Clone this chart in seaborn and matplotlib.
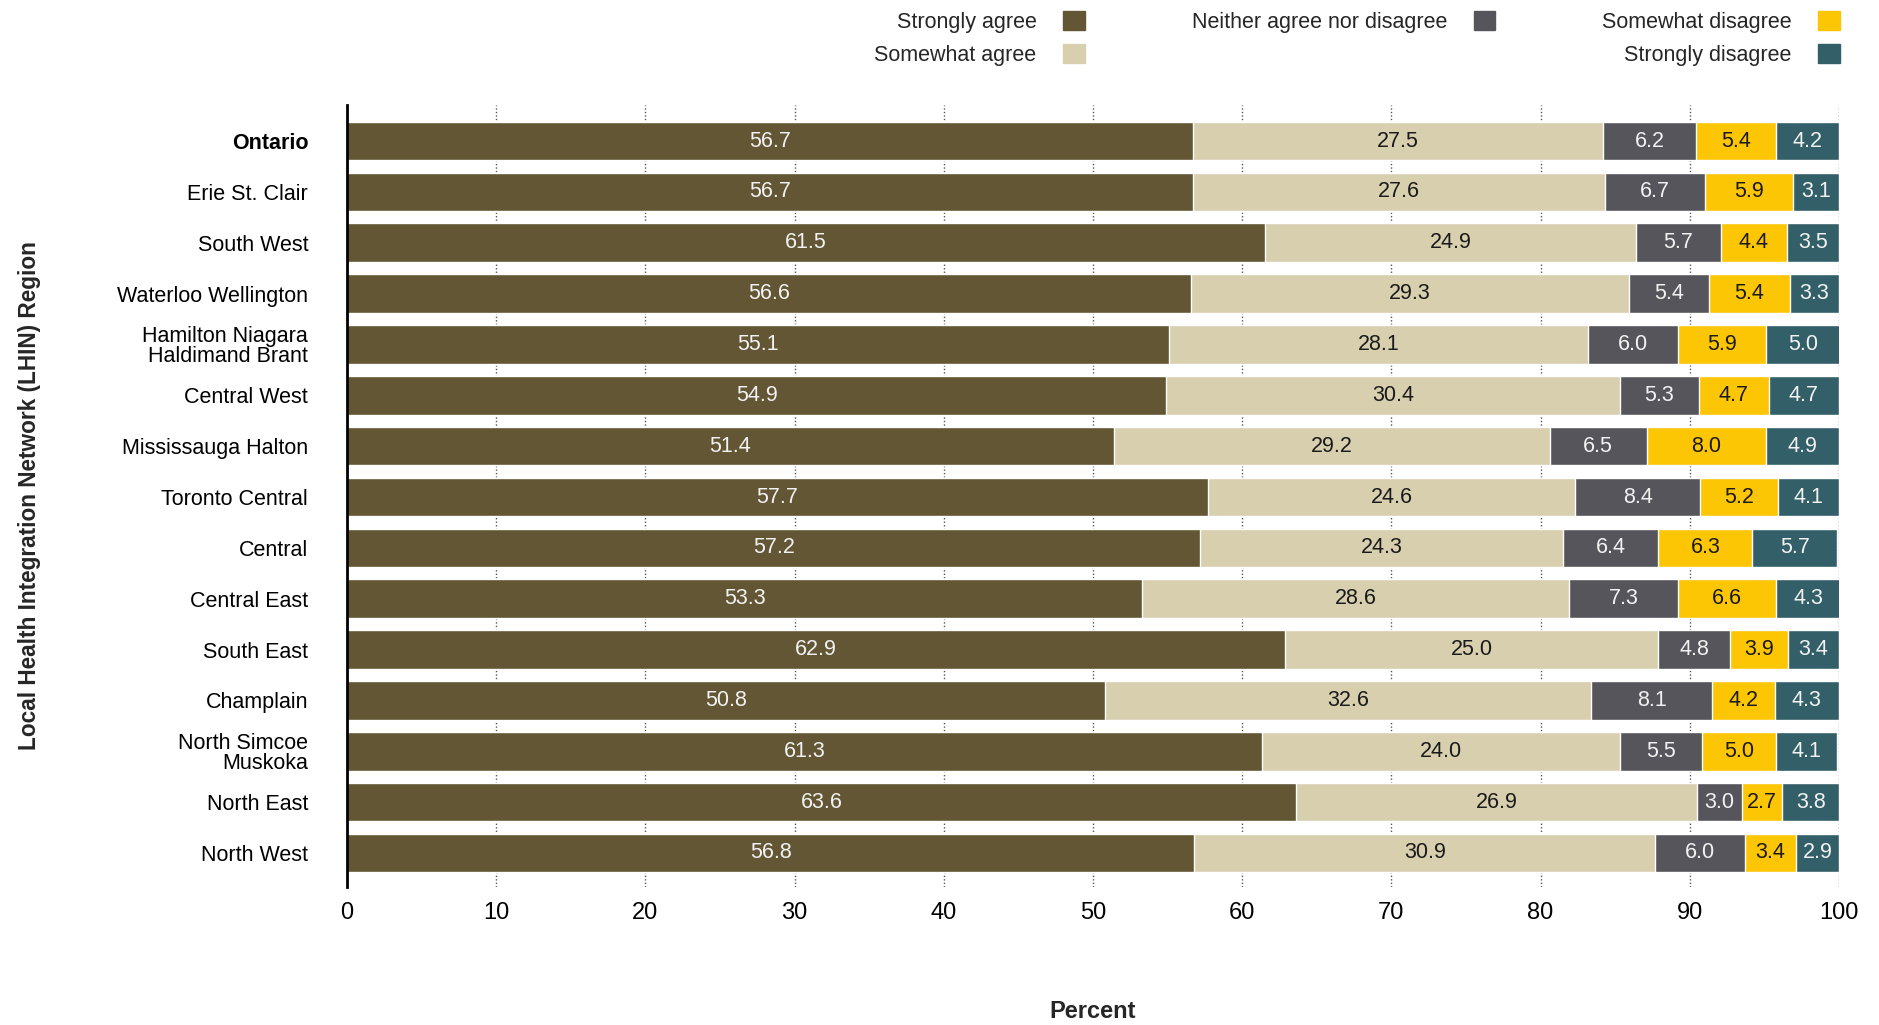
import pandas as pd
import matplotlib
matplotlib.use('Agg')
import matplotlib.pyplot as plt
from matplotlib.patches import Patch
import seaborn as sns

# regions, top to bottom
regions = ['Ontario', 'Erie St. Clair', 'South West', 'Waterloo Wellington',
           'Hamilton Niagara\nHaldimand Brant', 'Central West', 'Mississauga Halton',
           'Toronto Central', 'Central', 'Central East', 'South East', 'Champlain',
           'North Simcoe\nMuskoka', 'North East', 'North West']

strongly_agree = [56.7, 56.7, 61.5, 56.6, 55.1, 54.9, 51.4, 57.7, 57.2, 53.3, 62.9, 50.8, 61.3, 63.6, 56.8]
somewhat_agree = [27.5, 27.6, 24.9, 29.3, 28.1, 30.4, 29.2, 24.6, 24.3, 28.6, 25.0, 32.6, 24.0, 26.9, 30.9]
neither = [6.2, 6.7, 5.7, 5.4, 6.0, 5.3, 6.5, 8.4, 6.4, 7.3, 4.8, 8.1, 5.5, 3.0, 6.0]
somewhat_disagree = [5.4, 5.9, 4.4, 5.4, 5.9, 4.7, 8.0, 5.2, 6.3, 6.6, 3.9, 4.2, 5.0, 2.7, 3.4]
strongly_disagree = [4.2, 3.1, 3.5, 3.3, 5.0, 4.7, 4.9, 4.1, 5.7, 4.3, 3.4, 4.3, 4.1, 3.8, 2.9]

categories = ['Strongly agree', 'Somewhat agree', 'Neither agree nor disagree',
              'Somewhat disagree', 'Strongly disagree']
colors = ['#625634', '#d8cfaf', '#56555b', '#fdc605', '#325f68']
text_colors = ['#f2f2f2', '#1a1a1a', '#f2f2f2', '#1a1a1a', '#f2f2f2']

df = pd.DataFrame({
    'Region': regions,
    'Strongly agree': strongly_agree,
    'Somewhat agree': somewhat_agree,
    'Neither agree nor disagree': neither,
    'Somewhat disagree': somewhat_disagree,
    'Strongly disagree': strongly_disagree,
})

# cumulative ends for stacking
cum = df[categories].cumsum(axis=1)
starts = cum - df[categories]

sns.set_style('white')
plt.rcParams['font.family'] = ['Liberation Sans', 'DejaVu Sans']

fig = plt.figure(figsize=(18.79, 10.25), dpi=100)
ax = fig.add_axes([0.1847, 0.1346, 0.7940, 0.7630])

# draw longest cumulative bar first, shorter ones on top
for i in reversed(range(len(categories))):
    sns.barplot(x=cum[categories[i]], y=df['Region'], order=regions, orient='h',
                color=colors[i], width=0.76, saturation=1, ax=ax, zorder=2)

# segment labels
for i, cat in enumerate(categories):
    for j, val in enumerate(df[cat]):
        mid = starts[cat].iloc[j] + val / 2
        ax.text(mid, j, f'{val:.1f}', ha='center', va='center',
                color=text_colors[i], fontsize=15.5, zorder=3)

ax.set_xlim(0, 100)
ax.set_ylim(14.67, -0.71)
ax.set_xticks(range(0, 101, 10))
ax.grid(axis='x', linestyle=(0, (1, 1.5)), color='#555555', linewidth=1, zorder=0)
ax.grid(axis='y', visible=False)
ax.set_axisbelow(True)
for s in ['top', 'right', 'bottom']:
    ax.spines[s].set_visible(False)
ax.spines['left'].set_color('black')
ax.spines['left'].set_linewidth(2)
ax.spines['left'].set_zorder(4)

ax.tick_params(axis='y', length=0, pad=28, labelsize=15.5, labelcolor='black')
ax.tick_params(axis='x', length=0, pad=11, labelsize=17, labelcolor='black')
for lab in ax.get_yticklabels():
    lab.set_linespacing(0.95)
    if lab.get_text() == 'Ontario':
        lab.set_fontweight('bold')

ax.set_xlabel('Percent', fontsize=17, fontweight='bold')
ax.xaxis.set_label_coords(0.5, -0.145)
ax.set_ylabel('Local Health Integration Network (LHIN) Region', fontsize=16.3, fontweight='bold')
ax.yaxis.set_label_coords(-0.205, 0.5)

handles = [Patch(color=colors[0], label=categories[0]),
           Patch(color=colors[1], label=categories[1]),
           Patch(color=colors[2], label=categories[2]),
           Patch(color='none', label=''),
           Patch(color=colors[3], label=categories[3]),
           Patch(color=colors[4], label=categories[4])]
fig.legend(handles=handles, ncol=3, loc='upper right', bbox_to_anchor=(1840 / 1879, 1 - 11 / 1025),
           frameon=False, markerfirst=False, fontsize=15.5, handlelength=1.0, handleheight=1.0,
           handletextpad=1.25, columnspacing=4.95, labelspacing=0.5, borderpad=0, borderaxespad=0)

fig.savefig('out.png', dpi=100)
